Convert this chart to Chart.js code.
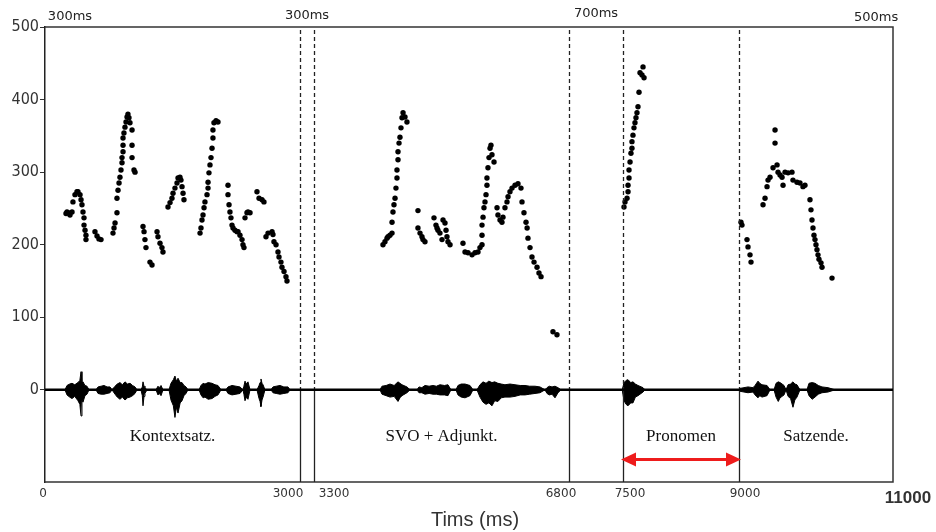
<!DOCTYPE html>
<html><head><meta charset="utf-8">
<script src="https://cdn.jsdelivr.net/npm/chart.js@4.4.1/dist/chart.umd.min.js"></script>
<style>html,body{margin:0;padding:0;background:#fff}#wrap{width:936px;height:532px;position:relative}</style>
</head><body><div id="wrap"><canvas id="c"></canvas></div>
<script>
// ---- data (time in ms, pitch in Hz) ----
const pitchT = [247,259,271,294,318, 329,353,376,388,412,424, 435,447,459,459,471,482,482,
 588,612,635,659,
 800,812,824,847,847,859,871,882,894,906,906,918,918,918,929,941,953,965,976,988,1000,1024,1024,1024,1047,1059,
 1153,1165,1176,1188,1235,1259,
 1318,1329,1353,1376,1388,
 1447,1471,1494,1506,1529,1553,1565,1588,1600,1612,1624,1635,
 1824,1835,1847,1859,1871,1882,1906,1918,1918,1929,1941,1953,1965,1976,1976,1988,2012,2035,
 2153,2153,2165,2176,2188,2200,2212,2235,2259,2271,2294,2318,2329,2341,
 2353,2376,2388,2412,
 2494,2518,2553,2576,
 2600,2624,2671,2682,2694,2718,2741,2753,2776,2788,2812,2835,2847,
 4247,4274,4302,4316,4343,4371,
 4371,4384,4398,4412,4425,4439,4439,4453,4453,4467,4480,4494,4508,4522,4549,4576,
 4727,4727,4755,4782,4796,4823,
 4947,4974,4988,5002,5029,5057,5071,5098,5112,5125,5139,5167,
 5345,5373,5414,5469,5510,5551,5578,5606,
 5606,5606,5620,5633,5647,5661,5674,5674,5688,5702,5716,5729,5743,5771,
 5812,5825,5853,5880,5894,5921,5949,5963,5990,6018,6059,6100,6141,6155,6182,6210,6225,6237,6265,6292,6320,6361,6388,6416,
 6580,6635,
 7513,7526,7552,7565,7565,7578,7578,7591,7603,7616,7616,7629,7642,7655,7668,7681,7694,7707,7720,7746,7759,7772,
 9026,9039,9104,9117,9143,9156,
 9312,9338,9364,9377,9403,9442,9468,9468,9494,9507,9533,9559,9572,9598,9637,9688,9701,9753,9792,9831,9857,
 9922,9935,9948,9961,9974,9987,10000,10013,10026,10039,10065,10078,10208];
const pitchHz = [243,245,244,241,245, 259,269,273,273,269,262, 255,245,237,227,220,213,207,
 218,212,208,207,
 216,223,230,244,264,275,285,293,303,313,320,328,337,347,354,362,369,376,380,375,368,358,337,320,303,300,
 225,218,207,196,176,172,
 218,211,202,196,190,
 252,258,264,271,278,285,292,293,289,280,271,262,
 216,223,234,241,251,259,269,278,286,299,310,320,333,347,358,368,371,369,
 282,269,255,245,237,227,223,220,218,218,213,207,200,196,
 237,244,245,244,
 273,264,262,259,
 211,216,218,214,204,200,190,183,176,169,163,156,150,
 200,204,209,211,213,216,
 231,245,255,264,278,292,303,317,328,340,348,361,375,382,376,369,
 247,223,216,211,207,204,
 237,227,223,220,216,207,234,230,220,211,204,200,
 202,190,189,186,189,190,196,200,
 213,227,238,251,259,269,282,292,306,320,333,337,324,314,
 251,241,234,231,238,251,259,266,273,278,282,284,278,259,244,231,223,209,196,183,176,169,161,156,
 80,76,
 252,259,264,273,282,292,303,314,326,333,342,351,361,368,375,382,390,410,437,434,445,430,
 231,227,207,197,186,176,
 255,264,280,289,293,306,358,340,310,300,296,293,282,300,299,300,289,286,285,280,282,
 262,248,234,223,213,207,200,193,186,180,175,169,154];

// waveform envelope (amplitude in the same units as the y axis)
const waveT = [235,259,290,318,350,388,410,424,435,447,470,494,518,
 600,624,660,694,730,765,788,
 824,850,882,910,941,970,1000,1030,1059,1082,
 1129,1145,1153,1165,1176,1200, 1306,1329,1345,1365,1388,
 1459,1482,1510,1529,1545,1565,1590,1612,1635,1659,1682,
 1812,1835,1860,1882,1920,1965,2000,2035,2071, 2129,2153,2200,2247,2294,2329,
 2340,2353,2370,2388,2412,
 2494,2518,2530,2541,2553,2565,2588, 2659,2682,2720,2765,2810,2859,2882,
 4206,4233,4290,4343,4400,4453,4480,4508,4576,4618,
 4714,4741,4780,4823,4880,4933,4980,5029,5090,5139,5180,
 5249,5276,5320,5373,5441,5482,
 5537,5578,5620,5661,5700,5743,5780,5825,5870,5921,5990,6059,6130,6196,6260,6333,6402,6470,
 6498,6530,6567,6608,6649,6690,
 7490,7513,7540,7565,7600,7629,7660,7694,7759,7784,
 9000,9013,9117,9182,9208,9247,9270,9299,9364,9403,9455,9481,9510,9533,9560,9585,9611,9637,9670,9701,9725,9753,9792,
 9883,9909,9950,9987,10030,10078,10156,10247,10273];
const waveUp = [0,6,8,9,7,10,13,25,9,11,6,5,0,
 0,4,5,6,4,4,0,
 5,8,10,7,11,8,9,6,4,0,
 0,4,11,5,3,0, 0,5,3,6,0,
 0,9,14,19,12,16,10,10,6,4,0,
 0,6,9,8,10,9,7,6,0, 0,4,6,5,4,0,
 5,12,8,11,0,
 0,6,10,15,9,7,0, 0,4,5,6,4,4,0,
 0,5,6,8,6,11,9,7,4,0,
 0,4,3,6,5,6,5,7,6,7,0,
 0,6,8,8,6,0,
 0,7,11,9,12,10,11,9,8,7,8,7,6,6,5,5,4,0,
 3,5,4,5,3,0,
 0,10,13,14,10,11,8,6,3,0,
 0,2,4,3,6,12,9,7,6,0,0,9,11,10,8,6,0,7,8,11,8,7,0,
 0,9,10,9,6,4,3,0];
const waveDn = [0,7,10,12,9,15,20,36,14,17,8,6,0,
 0,5,6,6,5,4,0,
 6,10,13,10,14,11,10,8,5,0,
 0,8,22,9,5,0, 0,7,5,8,0,
 0,14,22,38,24,32,18,15,8,5,0,
 0,7,11,10,13,12,9,7,0, 0,5,7,6,5,0,
 6,15,10,13,0,
 0,12,16,23,14,10,0, 0,4,5,6,5,4,0,
 0,6,8,10,9,16,11,8,4,0,
 0,4,4,6,5,6,6,7,7,8,0,
 0,7,10,11,8,0,
 0,10,17,20,18,22,15,16,11,10,10,9,7,7,6,5,4,0,
 5,7,6,11,4,0,
 0,15,20,22,18,18,10,8,3,0,
 0,2,4,3,7,11,8,10,8,0,0,10,16,11,9,7,0,9,12,24,14,10,0,
 0,8,13,10,6,4,3,0];

const xTickVals = [0,3000,3300,6800,7500,9000,11000];
const xTickLabels = ['0','3000','3300','6800','7500','9000','11000'];
const yTickVals = [0,100,200,300,400,500];
const boundaryT = [3000,3300,6800,7500,9000];
const segLabels = ['Kontextsatz.','SVO + Adjunkt.','Pronomen','Satzende.'];
const segLabelT = [1500,5050,8250,10000];
const pauseLabels = ['300ms','300ms','700ms','500ms'];
const pauseLabelT = [294,3150,7150,10780];
const arrowT = [7500,9000];
const arrowHz = -96;
const segLabelHz = -65;
const xTitle = 'Tims (ms)';

// ---- piecewise time axis (segments drawn with the widths of the original figure) ----
const xAxisFrac = [0, 255/848, 269/848, 524/848, 578/848, 694/848, 1];
const LS = Chart.LinearScale || Chart.registry.getScale('linear');
class PiecewiseScale extends LS {
  _frac(v){
    const b = xTickVals, f = xAxisFrac;
    if (v <= b[0]) return f[0];
    for (let i = 1; i < b.length; i++) {
      if (v <= b[i]) return f[i-1] + (v - b[i-1]) / (b[i] - b[i-1]) * (f[i] - f[i-1]);
    }
    return f[f.length-1];
  }
  getPixelForValue(v){ return this.left + this._frac(v) * this.width; }
  getValueForPixel(p){
    const r = (p - this.left) / this.width, b = xTickVals, f = xAxisFrac;
    for (let i = 1; i < f.length; i++) {
      if (r <= f[i]) return b[i-1] + (r - f[i-1]) / (f[i] - f[i-1]) * (b[i] - b[i-1]);
    }
    return b[b.length-1];
  }
}
PiecewiseScale.id = 'piecewise';
PiecewiseScale.defaults = LS.defaults;
Chart.register(PiecewiseScale);

const deco = {
  id: 'deco',
  afterDatasetsDraw(chart){
    const {ctx, chartArea: a, scales: {x, y}} = chart;
    const y0 = y.getPixelForValue(0);
    ctx.save();
    // frame
    ctx.strokeStyle = '#333'; ctx.lineWidth = 1.5; ctx.setLineDash([]);
    ctx.beginPath();
    ctx.moveTo(a.left, a.top); ctx.lineTo(a.right, a.top); ctx.lineTo(a.right, a.bottom); ctx.lineTo(a.left, a.bottom);
    ctx.stroke();
    // boundaries
    ctx.strokeStyle = '#222'; ctx.lineWidth = 1.3;
    boundaryT.forEach(t => {
      const px = Math.round(x.getPixelForValue(t)) + 0.5;
      ctx.setLineDash([4,3]);
      ctx.beginPath(); ctx.moveTo(px, a.top + 3); ctx.lineTo(px, y0); ctx.stroke();
      ctx.setLineDash([]);
      ctx.beginPath(); ctx.moveTo(px, y0); ctx.lineTo(px, a.bottom); ctx.stroke();
    });
    // zero line
    ctx.strokeStyle = '#000'; ctx.lineWidth = 2.5;
    ctx.beginPath(); ctx.moveTo(a.left, y0); ctx.lineTo(a.right, y0); ctx.stroke();
    // segment labels
    ctx.fillStyle = '#111'; ctx.font = '17px "Liberation Serif", "Times New Roman", serif';
    ctx.textAlign = 'center'; ctx.textBaseline = 'middle';
    segLabels.forEach((s, i) => ctx.fillText(s, x.getPixelForValue(segLabelT[i]), y.getPixelForValue(segLabelHz)));
    // pause labels
    ctx.fillStyle = '#222'; ctx.font = '13px "DejaVu Sans", sans-serif';
    const pauseDy = [-10, -11, -13, -9];
    pauseLabels.forEach((s, i) => ctx.fillText(s, x.getPixelForValue(pauseLabelT[i]), a.top + pauseDy[i]));
    // x tick labels
    const tickDx = [-2, -12, 20, -8, 7, 6, 15];
    xTickVals.forEach((v, i) => {
      const last = i === xTickVals.length - 1;
      ctx.font = last ? 'bold 17px "Liberation Sans", Arial, sans-serif' : '12px "DejaVu Sans", sans-serif';
      ctx.fillStyle = '#333';
      ctx.fillText(xTickLabels[i], x.getPixelForValue(v) + tickDx[i], a.bottom + (last ? 16 : 12));
    });
    // axis title
    ctx.font = '20px "Liberation Sans", Arial, sans-serif'; ctx.fillStyle = '#333';
    ctx.fillText(xTitle, (a.left + a.right) / 2 + 6, a.bottom + 38);
    // red double arrow
    const x1 = x.getPixelForValue(arrowT[0]), x2 = x.getPixelForValue(arrowT[1]), ya = y.getPixelForValue(arrowHz);
    ctx.strokeStyle = '#ee1c1c'; ctx.fillStyle = '#ee1c1c'; ctx.lineWidth = 3;
    ctx.beginPath(); ctx.moveTo(x1 + 10, ya); ctx.lineTo(x2 - 10, ya); ctx.stroke();
    ctx.beginPath(); ctx.moveTo(x1 - 2, ya); ctx.lineTo(x1 + 13, ya - 7); ctx.lineTo(x1 + 13, ya + 7); ctx.closePath(); ctx.fill();
    ctx.beginPath(); ctx.moveTo(x2 + 2, ya); ctx.lineTo(x2 - 13, ya - 7); ctx.lineTo(x2 - 13, ya + 7); ctx.closePath(); ctx.fill();
    ctx.restore();
  }
};

new Chart(document.getElementById('c'), {
  type: 'scatter',
  data: {
    datasets: [
      { type: 'line', data: waveT.map((t, i) => ({x: t, y: waveUp[i]})), borderColor: '#000', borderWidth: 1,
        backgroundColor: '#000', pointRadius: 0, fill: '+1', tension: 0 },
      { type: 'line', data: waveT.map((t, i) => ({x: t, y: -waveDn[i]})), borderColor: '#000', borderWidth: 1,
        backgroundColor: '#000', pointRadius: 0, fill: false, tension: 0 },
      { type: 'scatter', data: pitchT.map((t, i) => ({x: t, y: pitchHz[i]})), pointRadius: 2.7,
        backgroundColor: '#000', borderWidth: 0, pointStyle: 'circle' }
    ]
  },
  options: {
    responsive: true, maintainAspectRatio: false, animation: false,
    layout: { padding: { top: 27, right: 43, bottom: 50, left: 0 } },
    plugins: { legend: { display: false }, tooltip: { enabled: false } },
    scales: {
      x: { type: 'piecewise', min: 0, max: 11000, display: false },
      y: {
        min: -127, max: 500,
        afterFit: s => { s.width = 45; },
        afterBuildTicks: s => { s.ticks = yTickVals.map(v => ({value: v})); },
        grid: { drawOnChartArea: false, drawTicks: true, tickLength: 5, color: '#333', lineWidth: 1 },
        border: { color: '#222', width: 1.5 },
        ticks: { font: { family: '"DejaVu Sans Condensed", "Liberation Sans Narrow", "DejaVu Sans", sans-serif', size: 16 },
                 color: '#333', padding: 1 }
      }
    }
  },
  plugins: [deco]
});
</script></body></html>
